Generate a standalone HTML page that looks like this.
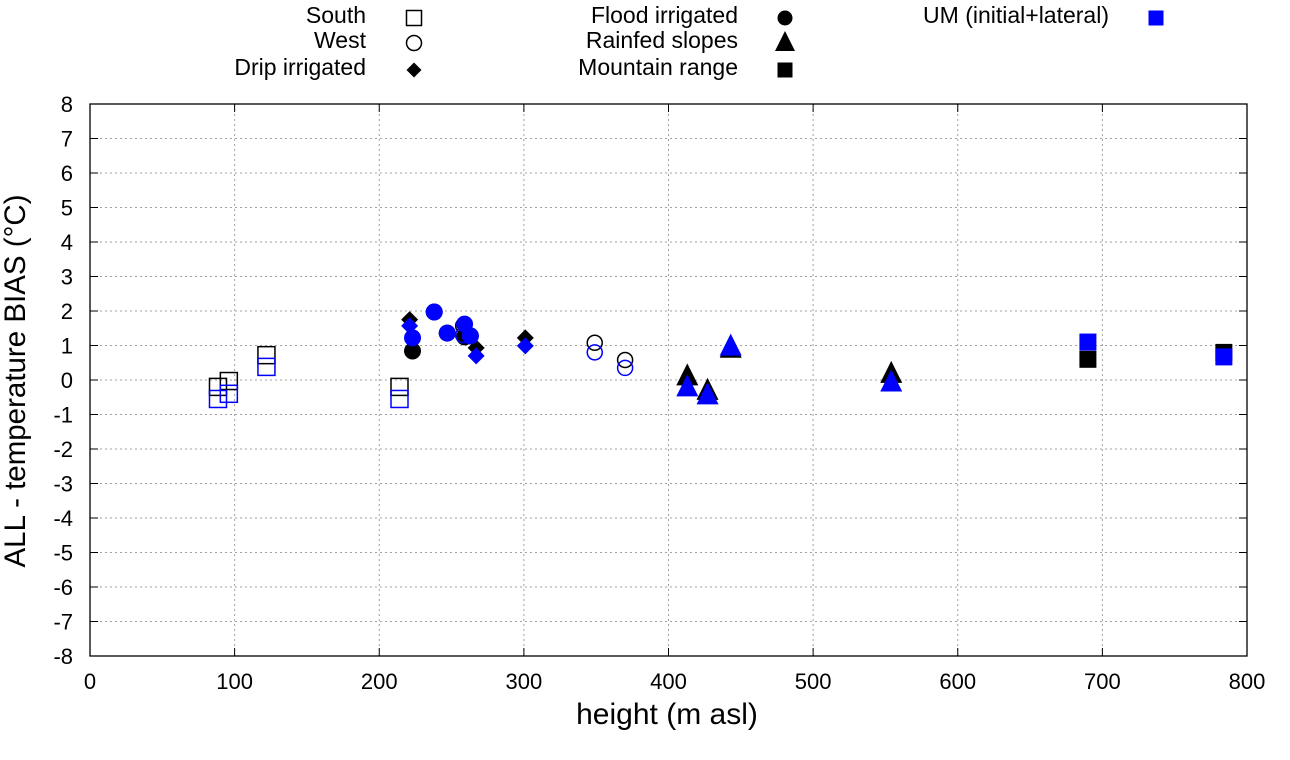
<!DOCTYPE html>
<html><head><meta charset="utf-8"><style>
body{margin:0;background:#fff;}
svg{display:block;font-family:"Liberation Sans",sans-serif;}
</style></head><body>
<svg id="chart" width="1290" height="760" xmlns="http://www.w3.org/2000/svg">
<g id="grid"></g>
<g id="axes"></g>
<g id="marks"></g>
<g id="legend"></g>
<text x="667" y="724" font-size="30" text-anchor="middle">height (m asl)</text>
<text transform="translate(25,381) rotate(-90)" font-size="29.5" text-anchor="middle">ALL - temperature BIAS (°C)</text>
</svg>
<script>
const xTicks=[0,100,200,300,400,500,600,700,800];
const yTicks=[-8,-7,-6,-5,-4,-3,-2,-1,0,1,2,3,4,5,6,7,8];
// South (open squares)
const southX=[88.5,96,122,214];
const southObs=[-0.2,-0.03,0.72,-0.2];
const southUM=[-0.55,-0.4,0.38,-0.55];
// West (open circles)
const westX=[258,349,370];
const westObs=[1.57,1.08,0.58];
const westUM=[1.3,0.8,0.35];
// Drip irrigated (diamonds)
const dripX=[221,267,301];
const dripObs=[1.75,0.93,1.22];
const dripUM=[1.57,0.7,0.99];
// Flood irrigated (filled circles)
const floodX=[223,238,247,259,263];
const floodObs=[0.84,1.97,1.36,1.25,1.28];
const floodUM=[1.22,1.97,1.36,1.62,1.28];
// Rainfed slopes (triangles)
const rainX=[413,427,443,554];
const rainObs=[0.1,-0.32,0.9,0.17];
const rainUM=[-0.22,-0.45,0.96,-0.08];
// Mountain range (filled squares)
const mountX=[690,784];
const mountObs=[0.6,0.8];
const mountUM=[1.1,0.67];

const NS="http://www.w3.org/2000/svg";
const X0=90,X1=1247,Y0=104,Y1=656;
const sx=v=>X0+(v-0)/(800-0)*(X1-X0);
const sy=v=>Y1-(v+8)/16*(Y1-Y0);
function el(tag,attrs,parent){const e=document.createElementNS(NS,tag);for(const k in attrs)e.setAttribute(k,attrs[k]);parent.appendChild(e);return e;}
const grid=document.getElementById('grid'),axes=document.getElementById('axes'),marks=document.getElementById('marks'),legend=document.getElementById('legend');
xTicks.forEach(t=>{
  const x=sx(t);
  if(t>0&&t<800){const g=el('line',{x1:x,x2:x,y1:Y0,y2:Y1,stroke:'#a0a0a0','stroke-dasharray':'2,3','stroke-width':1},grid);
  
  }
  el('line',{x1:x,x2:x,y1:Y1,y2:Y1-8,stroke:'#000'},axes);
  el('line',{x1:x,x2:x,y1:Y0,y2:Y0+8,stroke:'#000'},axes);
  const tx=el('text',{x:x,y:Y1+33,'font-size':22,'text-anchor':'middle'},axes);tx.textContent=t;
  
  
});
yTicks.forEach(t=>{
  const y=sy(t);
  if(t>-8&&t<8){const g=el('line',{x1:X0,x2:X1,y1:y,y2:y,stroke:'#a0a0a0','stroke-dasharray':'2,3','stroke-width':1},grid);
  
  }
  el('line',{x1:X0,x2:X0+8,y1:y,y2:y,stroke:'#000'},axes);
  el('line',{x1:X1,x2:X1-8,y1:y,y2:y,stroke:'#000'},axes);
  const tx=el('text',{x:X0-17,y:y+8,'font-size':22,'text-anchor':'end'},axes);tx.textContent=t;
  
  
});
el('rect',{x:X0,y:Y0,width:X1-X0,height:Y1-Y0,fill:'none',stroke:'#000','stroke-width':1.3},axes);

function marker(type,cx,cy,color,s,parent,name){
  let e;
  if(type==='osq')e=el('rect',{x:cx-s/2,y:cy-s/2,width:s,height:s,fill:'none',stroke:color,'stroke-width':1.5},parent);
  else if(type==='ocirc')e=el('circle',{cx:cx,cy:cy,r:s/2,fill:'none',stroke:color,'stroke-width':1.5},parent);
  else if(type==='diam')e=el('polygon',{points:`${cx},${cy-s/2} ${cx+s/2},${cy} ${cx},${cy+s/2} ${cx-s/2},${cy}`,fill:color},parent);
  else if(type==='circ')e=el('circle',{cx:cx,cy:cy,r:s/2,fill:color},parent);
  else if(type==='tri')e=el('polygon',{points:`${cx},${cy-s*0.6} ${cx+s/2},${cy+s*0.4} ${cx-s/2},${cy+s*0.4}`,fill:color},parent);
  else e=el('rect',{x:cx-s/2,y:cy-s/2,width:s,height:s,fill:color},parent);
  
  
  return e;
}
const groups=[
 ['osq',southX,southObs,southUM,17,'south'],
 ['ocirc',westX,westObs,westUM,15,'west'],
 ['diam',dripX,dripObs,dripUM,17,'drip'],
 ['circ',floodX,floodObs,floodUM,17,'flood'],
 ['tri',rainX,rainObs,rainUM,22,'rainfed'],
 ['fsq',mountX,mountObs,mountUM,17,'mountain']
];
groups.forEach(g=>g[1].forEach((x,i)=>marker(g[0],sx(x),sy(g[2][i]),'#000',g[4],marks,g[5]+'-obs-point')));
groups.forEach(g=>g[1].forEach((x,i)=>marker(g[0],sx(x),sy(g[3][i]),'#0000ff',g[4],marks,g[5]+'-um-point')));

const legItems=[['South','osq',366,414,16,'#000'],['West','ocirc',366,414,41,'#000'],['Drip irrigated','diam',366,414,68,'#000'],
['Flood irrigated','circ',738,785,16,'#000'],['Rainfed slopes','tri',738,785,41,'#000'],['Mountain range','fsq',738,785,68,'#000'],
['UM (initial+lateral)','fsq',1109,1156,16,'#0000ff']];
legItems.forEach(l=>{
  const t=el('text',{x:l[2],y:l[4]+7,'font-size':23,'text-anchor':'end'},legend);t.textContent=l[0];
  
  
  marker(l[1],l[3],l[4]+2,l[5],l[1]==='tri'?20:(l[1]==='diam'?15:15),legend,'legend-marker');
});
</script>
</body></html>
